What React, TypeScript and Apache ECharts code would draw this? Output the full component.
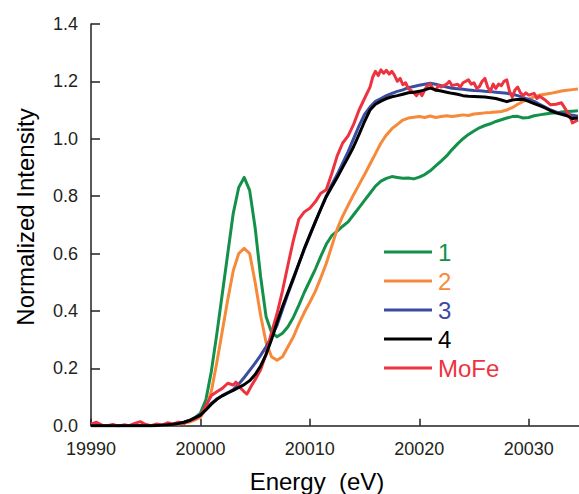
import React, { useEffect, useRef } from "react";
import * as echarts from "echarts";

const energy = [
  19990, 19990.5, 19991, 19991.5, 19992, 19992.5, 19993, 19993.5, 19994, 19994.5,
  19995, 19995.5, 19996, 19996.5, 19997, 19997.5, 19998, 19998.5, 19999, 19999.5,
  20000, 20000.5, 20001, 20001.5, 20002, 20002.5, 20003, 20003.5, 20004, 20004.5,
  20005, 20005.5, 20006, 20006.5, 20007, 20007.5, 20008, 20008.5, 20009, 20009.5,
  20010, 20010.5, 20011, 20011.5, 20012, 20012.5, 20013, 20013.5, 20014, 20014.5,
  20015, 20015.5, 20016, 20016.5, 20017, 20017.5, 20018, 20018.5, 20019, 20019.5,
  20020, 20020.5, 20021, 20021.5, 20022, 20022.5, 20023, 20023.5, 20024, 20024.5,
  20025, 20025.5, 20026, 20026.5, 20027, 20027.5, 20028, 20028.5, 20029, 20029.5,
  20030, 20030.5, 20031, 20031.5, 20032, 20032.5, 20033, 20033.5, 20034, 20034.5,
];

const sample1 = [
  0, 0, 0, 0, 0, 0, 0, 0, 0, 0,
  0, 0, 0.001, 0.002, 0.003, 0.005, 0.008, 0.012, 0.018, 0.028,
  0.044, 0.09, 0.19, 0.32, 0.46, 0.6, 0.74, 0.83, 0.865, 0.82,
  0.69, 0.52, 0.38, 0.325, 0.31, 0.322, 0.345, 0.378, 0.42, 0.465,
  0.505, 0.545, 0.59, 0.632, 0.662, 0.678, 0.695, 0.71, 0.735, 0.76,
  0.785, 0.81, 0.835, 0.852, 0.862, 0.868, 0.865, 0.862, 0.863, 0.86,
  0.866, 0.875, 0.888, 0.905, 0.922, 0.94, 0.962, 0.982, 1.0, 1.015,
  1.027, 1.038, 1.046, 1.052, 1.06, 1.066, 1.072, 1.077, 1.078, 1.072,
  1.074, 1.08, 1.083, 1.086, 1.089, 1.09, 1.093, 1.095, 1.096, 1.097,
];

const sample2 = [
  0, 0, 0, 0, 0, 0, 0, 0, 0, 0,
  0, 0, 0.001, 0.002, 0.003, 0.004, 0.006, 0.009, 0.013, 0.02,
  0.03, 0.06, 0.12, 0.22, 0.33, 0.44, 0.54, 0.6, 0.618, 0.6,
  0.5, 0.385, 0.29, 0.24, 0.228, 0.24, 0.275, 0.31, 0.355, 0.395,
  0.43, 0.468, 0.515, 0.565, 0.625, 0.685, 0.73, 0.768, 0.805, 0.84,
  0.875, 0.912, 0.948, 0.985, 1.013, 1.035, 1.05, 1.065, 1.072, 1.075,
  1.077, 1.074, 1.079, 1.074, 1.077, 1.08, 1.077, 1.08, 1.083, 1.081,
  1.086, 1.088, 1.09, 1.091, 1.093, 1.095, 1.1, 1.108, 1.12, 1.13,
  1.138, 1.146, 1.152, 1.155, 1.158, 1.162, 1.166, 1.169, 1.171, 1.173,
];

const sample3 = [
  0, 0, 0, 0, 0, 0, 0, 0, 0, 0,
  0, 0, 0.001, 0.002, 0.003, 0.005, 0.008, 0.012, 0.018, 0.027,
  0.038, 0.057, 0.078, 0.093, 0.105, 0.115, 0.126, 0.145, 0.168, 0.193,
  0.218, 0.245, 0.275, 0.31, 0.35, 0.405, 0.46, 0.51, 0.565, 0.615,
  0.662, 0.71, 0.755, 0.8, 0.84, 0.875, 0.915, 0.955, 1.0, 1.045,
  1.085, 1.11, 1.13, 1.14, 1.15, 1.158, 1.165, 1.17, 1.178, 1.182,
  1.186, 1.19, 1.193, 1.19, 1.185, 1.18, 1.176, 1.174, 1.172, 1.17,
  1.168, 1.167, 1.165, 1.164, 1.162, 1.16, 1.158, 1.155, 1.15, 1.143,
  1.137, 1.13, 1.12, 1.11, 1.1, 1.093, 1.088, 1.085, 1.082, 1.078,
];

const sample4 = [
  0, 0, 0, 0, 0, 0, 0, 0, 0, 0,
  0, 0, 0.001, 0.002, 0.003, 0.005, 0.008, 0.012, 0.018, 0.027,
  0.037, 0.055, 0.075, 0.092, 0.104, 0.114, 0.123, 0.133, 0.143, 0.157,
  0.178, 0.208, 0.248, 0.3, 0.36, 0.415, 0.465, 0.515, 0.565, 0.618,
  0.665, 0.71, 0.755, 0.798, 0.832, 0.865, 0.9, 0.935, 0.972, 1.015,
  1.06, 1.1, 1.12, 1.131, 1.14, 1.146, 1.15, 1.155, 1.16, 1.162,
  1.165, 1.17, 1.176, 1.17, 1.166, 1.162, 1.158, 1.155, 1.15, 1.148,
  1.147, 1.146, 1.145, 1.143, 1.14, 1.135, 1.129, 1.135, 1.137, 1.137,
  1.13, 1.122, 1.115, 1.107, 1.098, 1.09, 1.085, 1.08, 1.07, 1.072,
];

const mofeEnergy = [
  19990, 19990.5, 19991, 19991.5, 19992, 19992.5, 19993, 19993.5, 19994, 19994.5,
  19995, 19995.5, 19996, 19996.5, 19997, 19997.5, 19998, 19998.5, 19999, 19999.5,
  20000, 20000.5, 20001, 20001.5, 20002, 20002.5, 20003, 20003.25, 20003.5, 20003.75,
  20004, 20004.25, 20004.5, 20004.75, 20005, 20005.5, 20006, 20006.5, 20007, 20007.5,
  20008, 20008.5, 20009, 20009.5, 20010, 20010.5, 20011, 20011.5, 20012, 20012.5,
  20013, 20013.5, 20014, 20014.5, 20015, 20015.5, 20015.75, 20016, 20016.25, 20016.5,
  20016.75, 20017, 20017.25, 20017.5, 20017.75, 20018, 20018.25, 20018.5, 20018.75, 20019,
  20019.5, 20019.75, 20020, 20020.25, 20020.5, 20020.75, 20021, 20021.25, 20021.5, 20021.75,
  20022, 20022.5, 20022.75, 20023, 20023.5, 20023.75, 20024, 20024.5, 20024.75, 20025,
  20025.25, 20025.5, 20025.75, 20026, 20026.25, 20026.5, 20026.75, 20027, 20027.25, 20027.5,
  20027.75, 20028, 20028.25, 20028.5, 20028.75, 20029, 20029.25, 20029.5, 20029.75, 20030,
  20030.5, 20030.75, 20031, 20031.25, 20031.5, 20032, 20032.5, 20033, 20033.25, 20033.5,
  20033.75, 20034, 20034.25, 20034.5,
];

const mofe = [
  0.005, 0.012, 0.002, 0.0, 0.004, -0.002, 0.003, 0.0, 0.008, 0.014,
  0.004, 0.0, 0.006, 0.002, 0.01, 0.006, 0.012, 0.008, 0.018, 0.024,
  0.035, 0.07, 0.105, 0.118, 0.13, 0.148, 0.142, 0.152, 0.14, 0.128,
  0.118, 0.11, 0.128, 0.145, 0.16, 0.195, 0.25, 0.325, 0.39, 0.47,
  0.56, 0.647, 0.72, 0.745, 0.758, 0.78, 0.81, 0.822, 0.878, 0.94,
  0.985, 1.01, 1.05, 1.1, 1.14, 1.18, 1.215, 1.235, 1.22, 1.24,
  1.228, 1.238, 1.225, 1.235, 1.22, 1.2, 1.21, 1.188, 1.195, 1.175,
  1.16, 1.15, 1.165, 1.15, 1.17, 1.185, 1.19, 1.175, 1.168, 1.185,
  1.18, 1.19, 1.2, 1.185, 1.19, 1.18, 1.195, 1.205, 1.19, 1.195,
  1.175, 1.182, 1.2, 1.21, 1.18, 1.165, 1.19, 1.175, 1.19, 1.185,
  1.2, 1.205, 1.165, 1.145, 1.17, 1.18, 1.16, 1.15, 1.16, 1.152,
  1.158, 1.14, 1.148, 1.142, 1.135, 1.118, 1.12, 1.125, 1.11, 1.095,
  1.08, 1.055, 1.06, 1.065,
];

const xTicks = [19990, 20000, 20010, 20020, 20030];
const yTicks = [0, 0.2, 0.4, 0.6, 0.8, 1.0, 1.2, 1.4];

const names = ["1", "2", "3", "4", "MoFe"];
const colors = ["#13914a", "#f6893a", "#3b4da0", "#000000", "#ee3340"];

const FONT = "'Liberation Sans', Arial, sans-serif";

function pairs(xs: number[], ys: number[]) {
  return xs.map((x, i) => [x, ys[i]]);
}

export default function App() {
  const ref = useRef<HTMLDivElement>(null);
  useEffect(() => {
    if (!ref.current) return;
    const chart = echarts.init(ref.current, null, { renderer: "svg" });
    const axisColor = "#231f20";
    const mk = (idx: number, data: number[][], z: number) => ({
      name: names[idx],
      type: "line",
      data,
      showSymbol: false,
      symbol: "none",
      smooth: false,
      z,
      lineStyle: { color: colors[idx], width: 3, join: "round" },
      itemStyle: { color: colors[idx] },
      emphasis: { disabled: true },
    });
    chart.setOption({
      animation: false,
      grid: { left: 91, top: 23.9, right: 0, bottom: 68.3, containLabel: false },
      xAxis: {
        type: "value",
        min: xTicks[0],
        max: 20034.6,
        interval: 10,
        axisLine: { show: true, lineStyle: { color: axisColor, width: 1.5 } },
        axisTick: { show: true, inside: true, length: 7, lineStyle: { color: axisColor, width: 1.5 } },
        axisLabel: {
          margin: 14,
          fontSize: 18,
          fontFamily: FONT,
          color: axisColor,
          showMaxLabel: false,
          formatter: (v: number) => (xTicks.includes(v) ? String(v) : ""),
        },
        splitLine: { show: false },
      },
      yAxis: {
        type: "value",
        min: yTicks[0],
        max: yTicks[yTicks.length - 1],
        interval: 0.2,
        axisLine: { show: true, lineStyle: { color: axisColor, width: 1.5 } },
        axisTick: { show: true, inside: true, length: 9, lineStyle: { color: axisColor, width: 1.5 } },
        axisLabel: {
          margin: 13,
          fontSize: 18,
          fontFamily: FONT,
          color: axisColor,
          formatter: (v: number) => v.toFixed(1),
        },
        splitLine: { show: false },
      },
      legend: {
        orient: "vertical",
        left: 384,
        top: 240,
        padding: 0,
        itemWidth: 48,
        itemHeight: 3,
        itemGap: 5,
        icon: "rect",
        selectedMode: false,
        textStyle: { fontSize: 24, fontFamily: FONT, lineHeight: 24, padding: [0, 0, 0, 1] },
        data: names.map((n, i) => ({ name: n, itemStyle: { color: colors[i] }, textStyle: { color: colors[i] } })),
      },
      graphic: [
        {
          type: "text",
          x: 317,
          y: 481,
          style: {
            text: "Energy  (eV)",
            fontSize: 24,
            fontFamily: FONT,
            fill: "#000",
            textAlign: "center",
            textVerticalAlign: "middle",
          },
        },
        {
          type: "text",
          x: 25,
          y: 217,
          rotation: Math.PI / 2,
          style: {
            text: "Normalized Intensity",
            fontSize: 24,
            fontFamily: FONT,
            fill: "#000",
            textAlign: "center",
            textVerticalAlign: "middle",
          },
        },
      ],
      series: [
        mk(0, pairs(energy, sample1), 1),
        mk(1, pairs(energy, sample2), 2),
        mk(2, pairs(energy, sample3), 3),
        mk(4, pairs(mofeEnergy, mofe), 4),
        mk(3, pairs(energy, sample4), 5),
      ],
    });
    return () => chart.dispose();
  }, []);
  return (
    <div
      ref={ref}
      style={{ position: "fixed", left: 0, top: 0, width: 579, height: 494, background: "#fff" }}
    />
  );
}
